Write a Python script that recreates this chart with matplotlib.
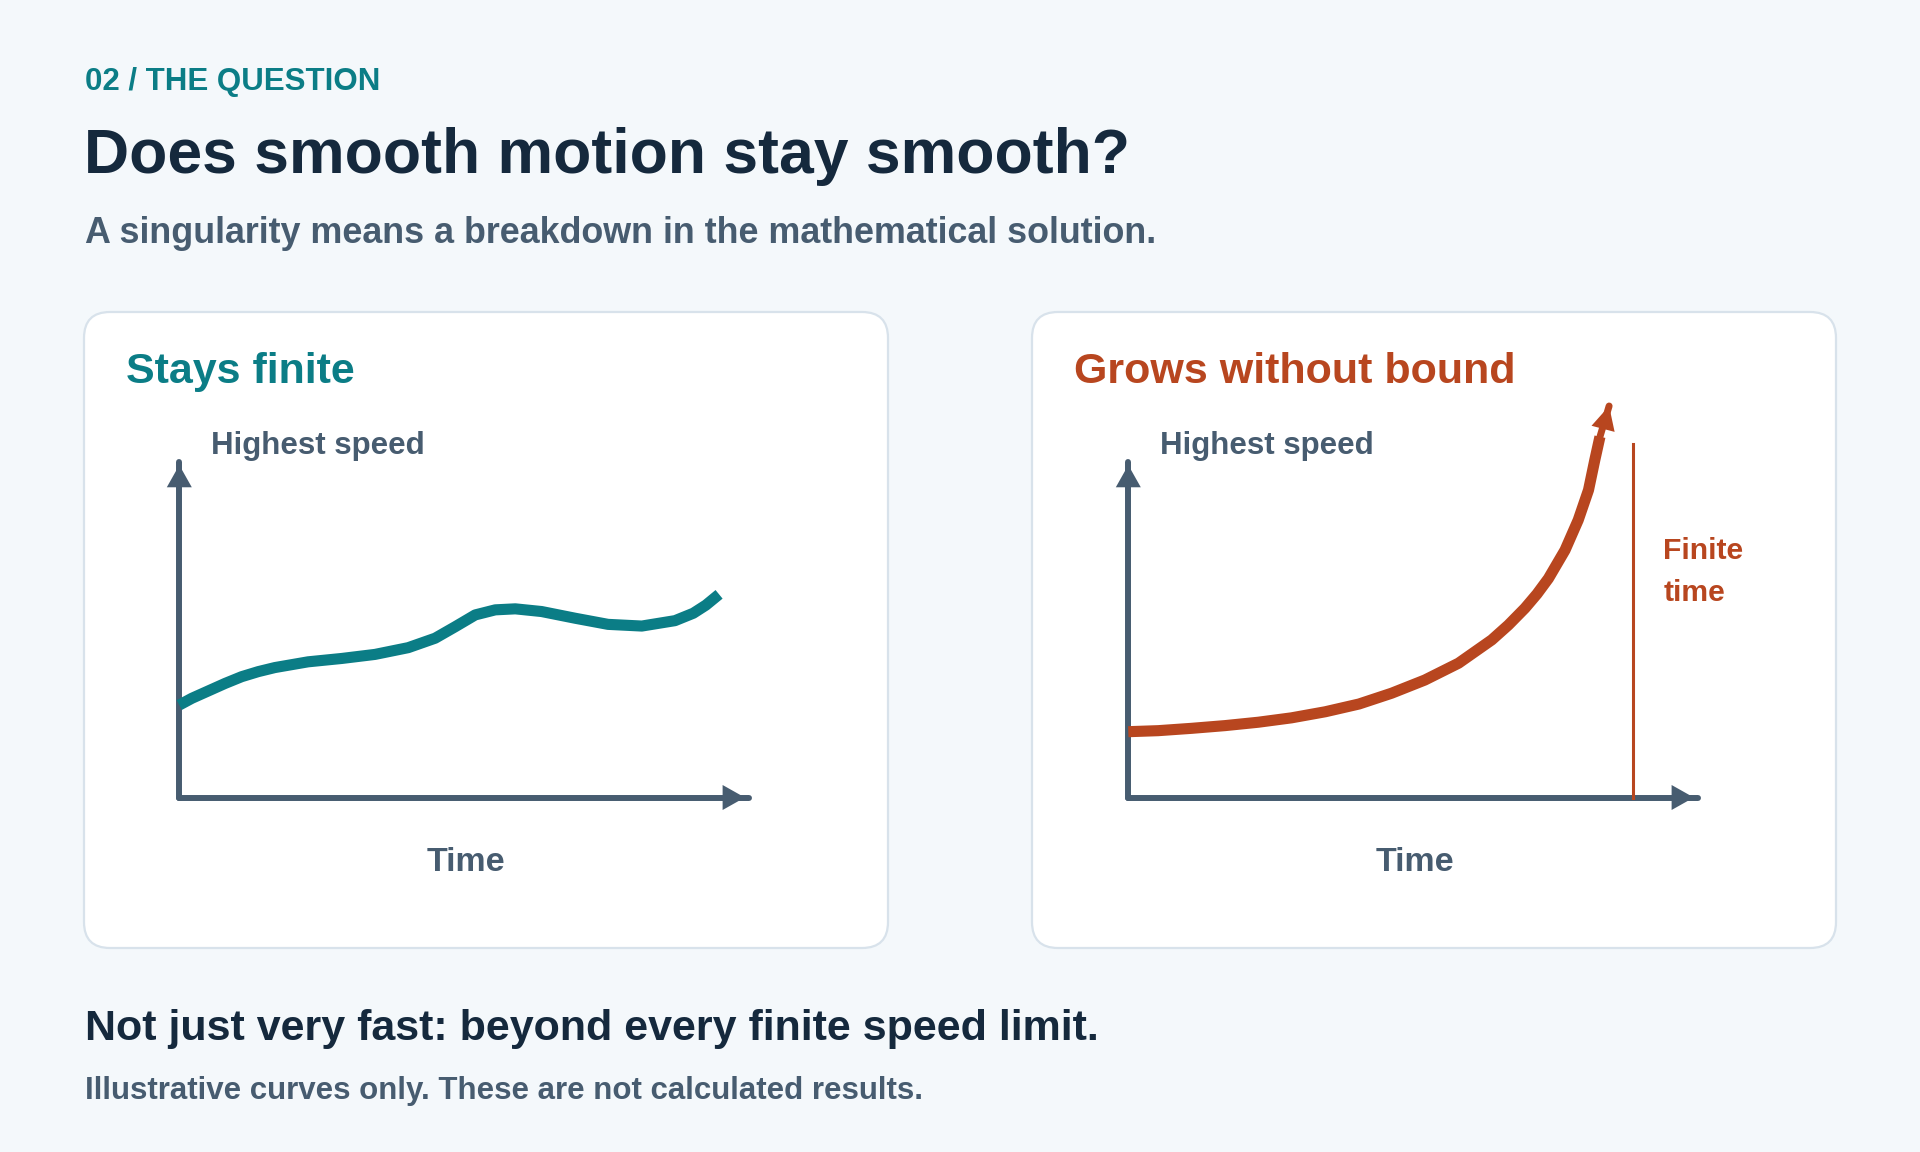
import matplotlib
matplotlib.use('Agg')
import matplotlib.pyplot as plt
from matplotlib.patches import FancyBboxPatch

plt.rcParams['font.family'] = ['Liberation Sans', 'DejaVu Sans']
plt.rcParams['font.weight'] = 'bold'

BG = '#f4f8fb'
NAVY = '#15293d'
SLATE = '#475c70'
TEAL = '#0b7d86'
RUST = '#b8461f'
BORDER = '#d8e2eb'

# illustrative curves (time 0..10, speed 0..10)
finite_time = [0.0, 0.22, 0.51, 0.80, 1.09, 1.38, 1.67, 2.25, 2.84, 3.42, 4.00,
               4.47, 4.82, 5.17, 5.52, 5.87, 6.33, 6.92, 7.49, 8.08, 8.66, 8.98,
               9.20, 9.43]
finite_speed = [2.74, 2.94, 3.16, 3.38, 3.58, 3.73, 3.85, 4.02, 4.12, 4.24, 4.44,
                4.72, 5.06, 5.41, 5.56, 5.59, 5.51, 5.31, 5.13, 5.08, 5.24, 5.46,
                5.70, 6.02]

blowup_time = [0.0, 0.52, 1.11, 1.69, 2.27, 2.85, 3.44, 4.03, 4.60, 5.18, 5.77,
               6.35, 6.64, 6.93, 7.14, 7.34, 7.63, 7.86, 8.04, 8.15, 8.24, 8.40]
blowup_speed = [1.95, 1.98, 2.05, 2.13, 2.23, 2.36, 2.54, 2.77, 3.09, 3.48, 3.98,
                4.67, 5.11, 5.61, 6.03, 6.49, 7.33, 8.22, 9.11, 10.00, 10.69, 11.60]
finite_time_mark = 8.81
finite_time_top = 10.46

W, H = 1920, 1152
fig = plt.figure(figsize=(19.2, 11.52), dpi=100)
fig.patch.set_facecolor(BG)

bg = fig.add_axes([0, 0, 1, 1])
bg.set_xlim(0, W)
bg.set_ylim(H, 0)
bg.axis('off')
bg.set_facecolor(BG)

# cards
for x0 in (84, 1032):
    bg.add_patch(FancyBboxPatch((x0, 312), 804, 636,
                                boxstyle='round,pad=0,rounding_size=26',
                                facecolor='white', edgecolor=BORDER, lw=1.6))

# header texts
bg.text(85, 90, '02 / THE QUESTION', color=TEAL, fontsize=22.5, va='baseline')
bg.text(84, 173, 'Does smooth motion stay smooth?', color=NAVY, fontsize=45, va='baseline')
bg.text(85, 243, 'A singularity means a breakdown in the mathematical solution.',
        color=SLATE, fontsize=25.8, va='baseline')

bg.text(126, 383, 'Stays finite', color=TEAL, fontsize=31, va='baseline')
bg.text(1074, 383, 'Grows without bound', color=RUST, fontsize=31, va='baseline')

bg.text(85, 1040, 'Not just very fast: beyond every finite speed limit.',
        color=NAVY, fontsize=31, va='baseline')
bg.text(85, 1099, 'Illustrative curves only. These are not calculated results.',
        color=SLATE, fontsize=22.5, va='baseline')


def panel(x_left):
    ax = fig.add_axes([x_left / W, 1 - 797.5 / H, 572.4 / W, 337.5 / H])
    ax.set_xlim(0, 10)
    ax.set_ylim(0, 10)
    ax.axis('off')
    ax.patch.set_alpha(0)
    ax.plot([0, 9.95], [0, 0], color=SLATE, lw=4.3, solid_capstyle='round', clip_on=False)
    ax.plot([0, 0], [0, 9.93], color=SLATE, lw=4.3, solid_capstyle='round', clip_on=False)
    head = '-|>,head_length=0.8,head_width=0.45'
    ax.annotate('', xy=(9.88, 0), xytext=(8.5, 0), annotation_clip=False,
                arrowprops=dict(arrowstyle=head, mutation_scale=20, lw=0,
                                color=SLATE, shrinkA=0, shrinkB=0))
    ax.annotate('', xy=(0, 9.85), xytext=(0, 8.5), annotation_clip=False,
                arrowprops=dict(arrowstyle=head, mutation_scale=20, lw=0,
                                color=SLATE, shrinkA=0, shrinkB=0))
    ax.text(0.55, 10.19, 'Highest speed', color=SLATE, fontsize=22.5, va='baseline')
    ax.text(5.0, -2.18, 'Time', color=SLATE, fontsize=24.5, va='baseline', ha='center')
    return ax


ax1 = panel(179.3)
ax1.plot(finite_time, finite_speed, color=TEAL, lw=8, solid_capstyle='butt',
         solid_joinstyle='round', clip_on=False)

ax2 = panel(1128.3)
ax2.plot(blowup_time[:-1], blowup_speed[:-1], color=RUST, lw=8, solid_capstyle='butt',
         solid_joinstyle='round', clip_on=False)
ax2.plot(blowup_time[-3:], blowup_speed[-3:], color=RUST, lw=5, solid_capstyle='round',
         clip_on=False)
ax2.annotate('', xy=(blowup_time[-1], blowup_speed[-1]),
             xytext=(blowup_time[-3], blowup_speed[-3]), annotation_clip=False,
             arrowprops=dict(arrowstyle='-|>,head_length=0.85,head_width=0.43',
                             mutation_scale=20, lw=0, color=RUST, shrinkA=0, shrinkB=0))
ax2.plot([finite_time_mark, finite_time_mark], [0, finite_time_top], color=RUST, lw=2.2,
         clip_on=False)
ax2.text(9.35, 7.07, 'Finite', color=RUST, fontsize=21.7, va='baseline')
ax2.text(9.35, 5.82, 'time', color=RUST, fontsize=21.7, va='baseline')

fig.savefig('out.png', dpi=100, facecolor=BG)
